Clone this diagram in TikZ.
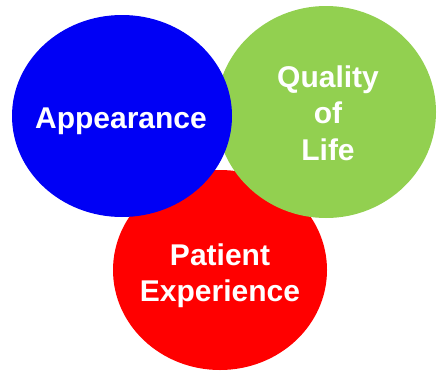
\documentclass[tikz,border=0pt]{standalone}
\usepackage{fontspec}
\setmainfont{Liberation Sans}
\usetikzlibrary{shapes.geometric}
\definecolor{apblue}{RGB}{0,0,245}
\definecolor{qolgreen}{RGB}{146,208,80}
\definecolor{pered}{RGB}{255,0,0}
\begin{document}
\begin{tikzpicture}[x=1pt,y=-1pt,
  disc/.style={ellipse, draw=none, inner sep=0pt},
  lbl/.style={text=white, font=\bfseries\fontsize{30}{36.5}\selectfont, align=center, inner sep=0pt}]
\useasboundingbox (0,0) rectangle (438,372);
% back to front: red, green, blue
\node[disc, fill=pered, minimum width=214pt, minimum height=200pt] (patient) at (220,270) {};
\node[disc, fill=qolgreen, minimum width=220pt, minimum height=212pt] (quality) at (326,112) {};
\node[disc, fill=apblue, minimum width=220pt, minimum height=202pt] (appearance) at (122,116) {};
% labels
\node[lbl, anchor=base] (appearancetext) at (121,128) {Appearance};
\node[lbl, anchor=north] (qualitytext) at (328,65.5) {Quality\\of\\Life};
\node[lbl, anchor=north] (patienttext) at (220,243.5) {Patient\\Experience};
\end{tikzpicture}
\end{document}
